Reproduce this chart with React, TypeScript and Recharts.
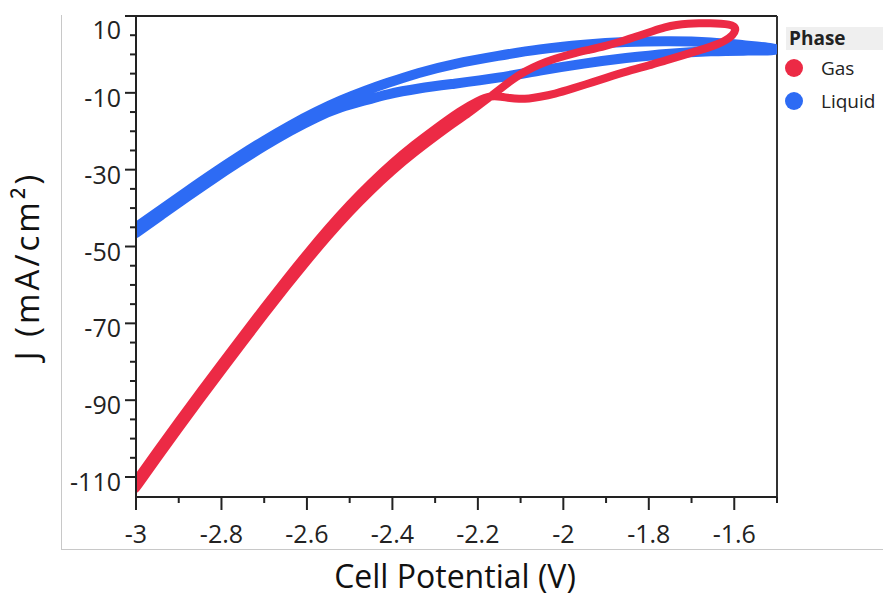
import React from "react";
import { LineChart, Line, XAxis, YAxis, ReferenceLine } from "recharts";

// ---- data ----
const gasX = [
  -3.0, -2.95, -2.9, -2.85, -2.8, -2.75, -2.7, -2.65, -2.6, -2.55, -2.5, -2.45, -2.4, -2.35,
  -2.3, -2.26, -2.22, -2.19, -2.165,
  -2.14, -2.119, -2.09, -2.057, -2.02, -1.979, -1.94, -1.902, -1.86, -1.825, -1.79, -1.762,
  -1.735, -1.708, -1.683, -1.655, -1.63, -1.612, -1.6, -1.596, -1.603, -1.621, -1.64, -1.66,
  -1.69, -1.722, -1.76, -1.8, -1.84, -1.886, -1.93, -1.979, -2.02, -2.057, -2.08, -2.104,
  -2.125, -2.145, -2.17, -2.2, -2.24, -2.3, -2.35, -2.4, -2.45, -2.5, -2.55, -2.6, -2.65,
  -2.7, -2.75, -2.8, -2.85, -2.9, -2.95, -3.0,
];
const gasY = [
  -113.0, -105.2, -97.5, -90.0, -82.5, -75.2, -67.9, -60.8, -53.9, -47.3, -41.1, -35.5, -30.3, -25.7,
  -21.5, -18.2, -15.2, -12.6, -10.5,
  -8.3, -6.5, -4.4, -2.6, -1.1, 0.2, 1.2, 2.2, 3.5, 4.8, 6.1, 7.1,
  7.7, 8.0, 8.1, 8.1, 8.0, 7.8, 7.3, 6.5, 5.0, 3.6, 2.6, 1.8,
  0.8, -0.3, -1.5, -2.9, -4.0, -5.6, -7.2, -8.9, -10.3, -11.1, -11.5, -11.6,
  -11.4, -11.0, -10.7, -12.0, -14.5, -19.3, -23.5, -28.1, -33.3, -38.9, -45.1, -51.7, -58.6,
  -65.7, -73.0, -80.3, -87.8, -95.3, -103.0, -110.8,
];

const liquidX = [
  -3.0, -2.94, -2.88, -2.82, -2.76, -2.7, -2.64, -2.58, -2.52, -2.46, -2.416, -2.338, -2.26,
  -2.15, -2.057, -1.95, -1.855, -1.75, -1.65, -1.58, -1.5,
  -1.5, -1.58, -1.65, -1.75, -1.855, -1.95, -2.057, -2.15, -2.26, -2.338, -2.416, -2.46,
  -2.52, -2.58, -2.64, -2.7, -2.76, -2.82, -2.88, -2.94, -3.0,
];
const liquidY = [
  -45.0, -40.3, -35.6, -31.0, -26.6, -22.4, -18.5, -15.0, -11.9, -9.3, -7.6, -4.7, -2.5,
  -0.3, 1.4, 2.6, 3.3, 3.5, 3.2, 2.4, 1.6,
  1.0, 1.0, 0.9, 0.3, -0.9, -2.3, -4.2, -6.1, -7.7, -8.8, -10.4, -11.9,
  -13.6, -16.4, -19.9, -23.8, -28.0, -32.4, -37.0, -41.7, -46.5,
];

const xTicks = [-3, -2.9, -2.8, -2.7, -2.6, -2.5, -2.4, -2.3, -2.2, -2.1, -2, -1.9, -1.8, -1.7, -1.6, -1.5];
const xLabelTicks = [-3, -2.8, -2.6, -2.4, -2.2, -2, -1.8, -1.6];
const yTicks = [10, 5, 0, -5, -10, -15, -20, -25, -30, -35, -40, -45, -50, -55, -60, -65, -70, -75, -80, -85, -90, -95, -100, -105, -110];
const yLabelTicks = [10, -10, -30, -50, -70, -90, -110];

const seriesNames = ["Gas", "Liquid"];
const legendTitle = "Phase";
const xTitle = "Cell Potential (V)";
const yTitle = "J (mA/cm²)";

const GAS_COLOR = "#EC2A45";
const LIQ_COLOR = "#2D6BF4";
const FONT = "'Open Sans', 'Noto Sans', sans-serif";

const gasData = gasX.map((x, i) => ({ x, y: gasY[i] }));
const liquidData = liquidX.map((x, i) => ({ x, y: liquidY[i] }));

const near = (a: number, b: number) => Math.abs(a - b) < 1e-6;

const XTick = (props: any) => {
  const { x, y, payload } = props;
  const v = payload.value as number;
  const major = xLabelTicks.some((t) => near(t, v));
  return (
    <g>
      <line x1={x} x2={x} y1={y} y2={y + (major ? 13 : 6)} stroke="#222" strokeWidth={2} />
      {major && (
        <text x={x} y={y + 36} textAnchor="middle" dominantBaseline="central" fontFamily={FONT} fontSize={25} fill="#222">
          {String(v)}
        </text>
      )}
    </g>
  );
};

const YTick = (props: any) => {
  const { x, y, payload } = props;
  const v = payload.value as number;
  const major = yLabelTicks.some((t) => near(t, v));
  const dy = near(v, 10) ? 13 : 4;
  return (
    <g>
      <line x1={x - (major ? 11 : 6)} x2={x} y1={y} y2={y} stroke="#222" strokeWidth={2} />
      {major && (
        <text x={x - 15} y={y + dy} textAnchor="end" dominantBaseline="central" fontFamily={FONT} fontSize={25} fill="#222">
          {String(v)}
        </text>
      )}
    </g>
  );
};

export default function App() {
  return (
    <div style={{ position: "absolute", left: 0, top: 0, width: 883, height: 599, background: "#fff", fontFamily: FONT, overflow: "hidden" }}>
      {/* outer light frame */}
      <div style={{ position: "absolute", left: 61, top: 15, width: 1, height: 535, background: "#C8C8C8" }} />
      <div style={{ position: "absolute", left: 61, top: 549, width: 822, height: 1, background: "#C8C8C8" }} />
      <LineChart
        width={883}
        height={599}
        margin={{ top: 16, right: 106, bottom: 62, left: 66 }}
        style={{ position: "absolute", left: 0, top: 0 }}
      >
        <XAxis
          type="number"
          dataKey="x"
          domain={[-3, -1.5]}
          ticks={xTicks}
          interval={0}
          allowDataOverflow
          height={40}
          tickSize={0}
          tickMargin={0}
          tickLine={false}
          axisLine={{ stroke: "#222", strokeWidth: 2 }}
          tick={<XTick />}
        />
        <YAxis
          type="number"
          dataKey="y"
          domain={[-115.2, 10]}
          ticks={yTicks}
          interval={0}
          allowDataOverflow
          width={70}
          tickSize={0}
          tickMargin={0}
          tickLine={false}
          axisLine={{ stroke: "#222", strokeWidth: 2 }}
          tick={<YTick />}
        />
        <ReferenceLine y={10} stroke="#222" strokeWidth={2} />
        <ReferenceLine x={-1.5} stroke="#333" strokeWidth={2} />
        <Line
          data={liquidData}
          dataKey="y"
          type="basis"
          stroke={LIQ_COLOR}
          strokeWidth={10}
          strokeLinejoin="round"
          strokeLinecap="round"
          dot={false}
          activeDot={false}
          isAnimationActive={false}
          name={seriesNames[1]}
        />
        <Line
          data={gasData}
          dataKey="y"
          type="basis"
          stroke={GAS_COLOR}
          strokeWidth={8}
          strokeLinejoin="round"
          strokeLinecap="round"
          dot={false}
          activeDot={false}
          isAnimationActive={false}
          name={seriesNames[0]}
        />
      </LineChart>
      {/* axis titles */}
      <div style={{ position: "absolute", left: 30, width: 850, top: 556, textAlign: "center", fontSize: 32, color: "#111", lineHeight: "40px", whiteSpace: "nowrap" }}>
        {xTitle}
      </div>
      <div
        style={{
          position: "absolute",
          left: 27,
          top: 266,
          transform: "translate(-50%, -50%) rotate(-90deg)",
          fontSize: 33,
          letterSpacing: 3,
          color: "#111",
          lineHeight: "36px",
          whiteSpace: "nowrap",
        }}
      >
        {yTitle}
      </div>
      {/* legend */}
      <div style={{ position: "absolute", left: 786, top: 27, width: 97, height: 23, background: "#EFEFEF" }} />
      <div style={{ position: "absolute", left: 789, top: 27, lineHeight: "23px", fontSize: 19, fontWeight: 700, color: "#222" }}>
        {legendTitle}
      </div>
      {[GAS_COLOR, LIQ_COLOR].map((c, i) => (
        <div key={i} style={{ position: "absolute", left: 785, top: 58 + i * 33, height: 20, display: "flex", alignItems: "center" }}>
          <div style={{ width: 18, height: 18, borderRadius: 9, background: c }} />
          <span style={{ marginLeft: 18, fontSize: 19, color: "#222", lineHeight: "20px" }}>{seriesNames[i]}</span>
        </div>
      ))}
    </div>
  );
}
